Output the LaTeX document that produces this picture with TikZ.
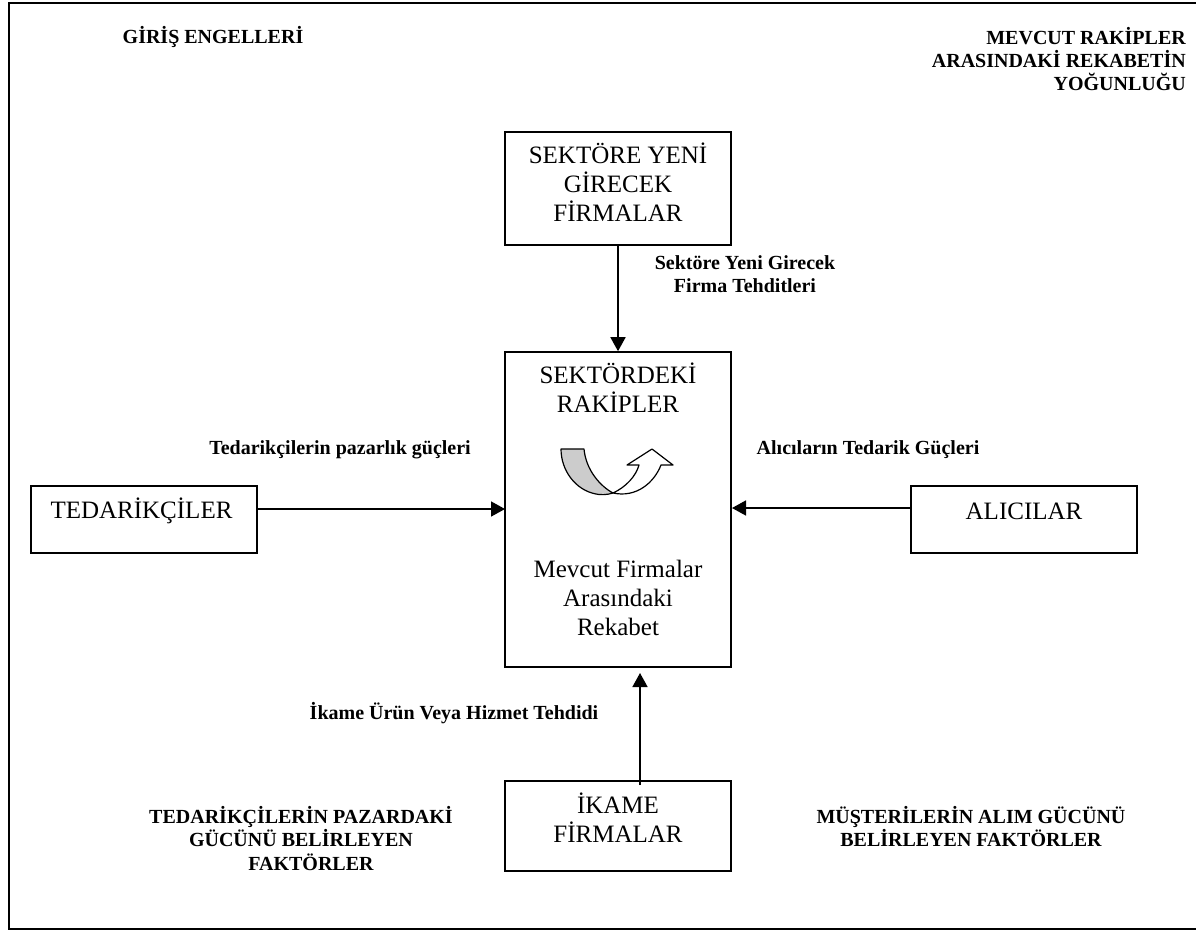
\documentclass[tikz,border=0pt]{standalone}
\usepackage{fontspec}
\setmainfont{Liberation Serif}
\usetikzlibrary{arrows.meta}
\begin{document}
\begin{tikzpicture}[x=1pt,y=-1pt,%
% common options for boxes:
box/.style = {draw, line width=1.6pt, inner sep=0},
% common options for the texts:
lbl/.style = {align=center, inner sep=0, font=\fontsize{20}{23.3}\selectfont\bfseries},
plain/.style = {align=center, inner sep=0, font=\fontsize{25}{29}\selectfont},
flow/.style = {line width=1.6pt, -{Triangle[length=14pt,width=15pt]}},
swirl/.style = {draw, line width=1.2pt, line join=round}]
\useasboundingbox (0,0) rectangle (1196,930);
% the frame runs off the right edge
\coordinate (F1) at (1196,3);
\coordinate (F2) at (9,3);
\coordinate (F3) at (9,928.8);
\coordinate (F4) at (1196,928.8);
\draw[line width=1.6pt] (F1) -- (F2) -- (F3) -- (F4);
\node[lbl] (L1) at (213,37) {GİRİŞ ENGELLERİ};
\node[lbl, align=right, anchor=east] (L2) at (1186,59) {MEVCUT RAKİPLER\\ARASINDAKİ REKABETİN\\YOĞUNLUĞU\hspace{47pt}};
\node[box, minimum width=226pt, minimum height=113pt] (B1) at (618,188.5) {};
\node[box, minimum width=226pt, minimum height=315pt] (B2) at (618,509.5) {};
\node[box, minimum width=226pt, minimum height=67pt] (B3) at (144,519.5) {};
\node[box, minimum width=226pt, minimum height=67pt] (B4) at (1024,519.5) {};
\node[box, minimum width=226pt, minimum height=90pt] (B5) at (618,826) {};
\node[plain] (T1) at (618,182.5) {SEKTÖRE YENİ\\GİRECEK\\FİRMALAR};
\node[plain] (T2) at (618,388) {SEKTÖRDEKİ\\RAKİPLER};
\node[plain] (T3) at (618,598) {Mevcut Firmalar\\Arasındaki\\Rekabet};
\node[plain] (T4) at (141.5,511) {TEDARİKÇİLER};
\node[plain] (T5) at (1024,511) {ALICILAR};
\node[plain] (T6) at (618,818) {İKAME\\FİRMALAR};
\node[lbl] (L3) at (745,274.5) {Sektöre Yeni Girecek\\Firma Tehditleri};
\node[lbl] (L4) at (340,450) {Tedarikçilerin pazarlık güçleri};
\node[lbl] (L5) at (868,450) {Alıcıların Tedarik Güçleri};
\node[lbl] (L6) at (454,713) {İkame Ürün Veya Hizmet Tehdidi};
\node[lbl] (L7) at (301,838.5) {TEDARİKÇİLERİN PAZARDAKİ\\GÜCÜNÜ BELİRLEYEN\\\hspace{20pt}FAKTÖRLER};
\node[lbl] (L8) at (971,826.5) {MÜŞTERİLERİN ALIM GÜCÜNÜ\\BELİRLEYEN FAKTÖRLER};
\coordinate (A1) at (257,509);
\coordinate (A2) at (505,509);
\coordinate (A3) at (911,508);
\coordinate (A4) at (732,508);
\coordinate (A5) at (640,785);
\coordinate (A6) at (640,673);
\draw[flow] (B1.south) to (B2.north);
\draw[flow] (A1) to (A2);
\draw[flow] (A3) to (A4);
\draw[flow] (A5) to (A6);
% the curved arrow
\draw[swirl, fill=black!20] (561,449) -- (584,449) .. controls (586,470) and (600,486) .. (613,493)
  .. controls (607,495) and (600,495) .. (596,494) .. controls (575,490) and (561,470) .. (561,449) -- cycle;
\draw[swirl, fill=white] (613,493) .. controls (626,487) and (636,476) .. (639,465) -- (627,465) -- (652,449) -- (673,465) -- (661,465)
  .. controls (654,483) and (636,498) .. (613,493) -- cycle;
\end{tikzpicture}
\end{document}
